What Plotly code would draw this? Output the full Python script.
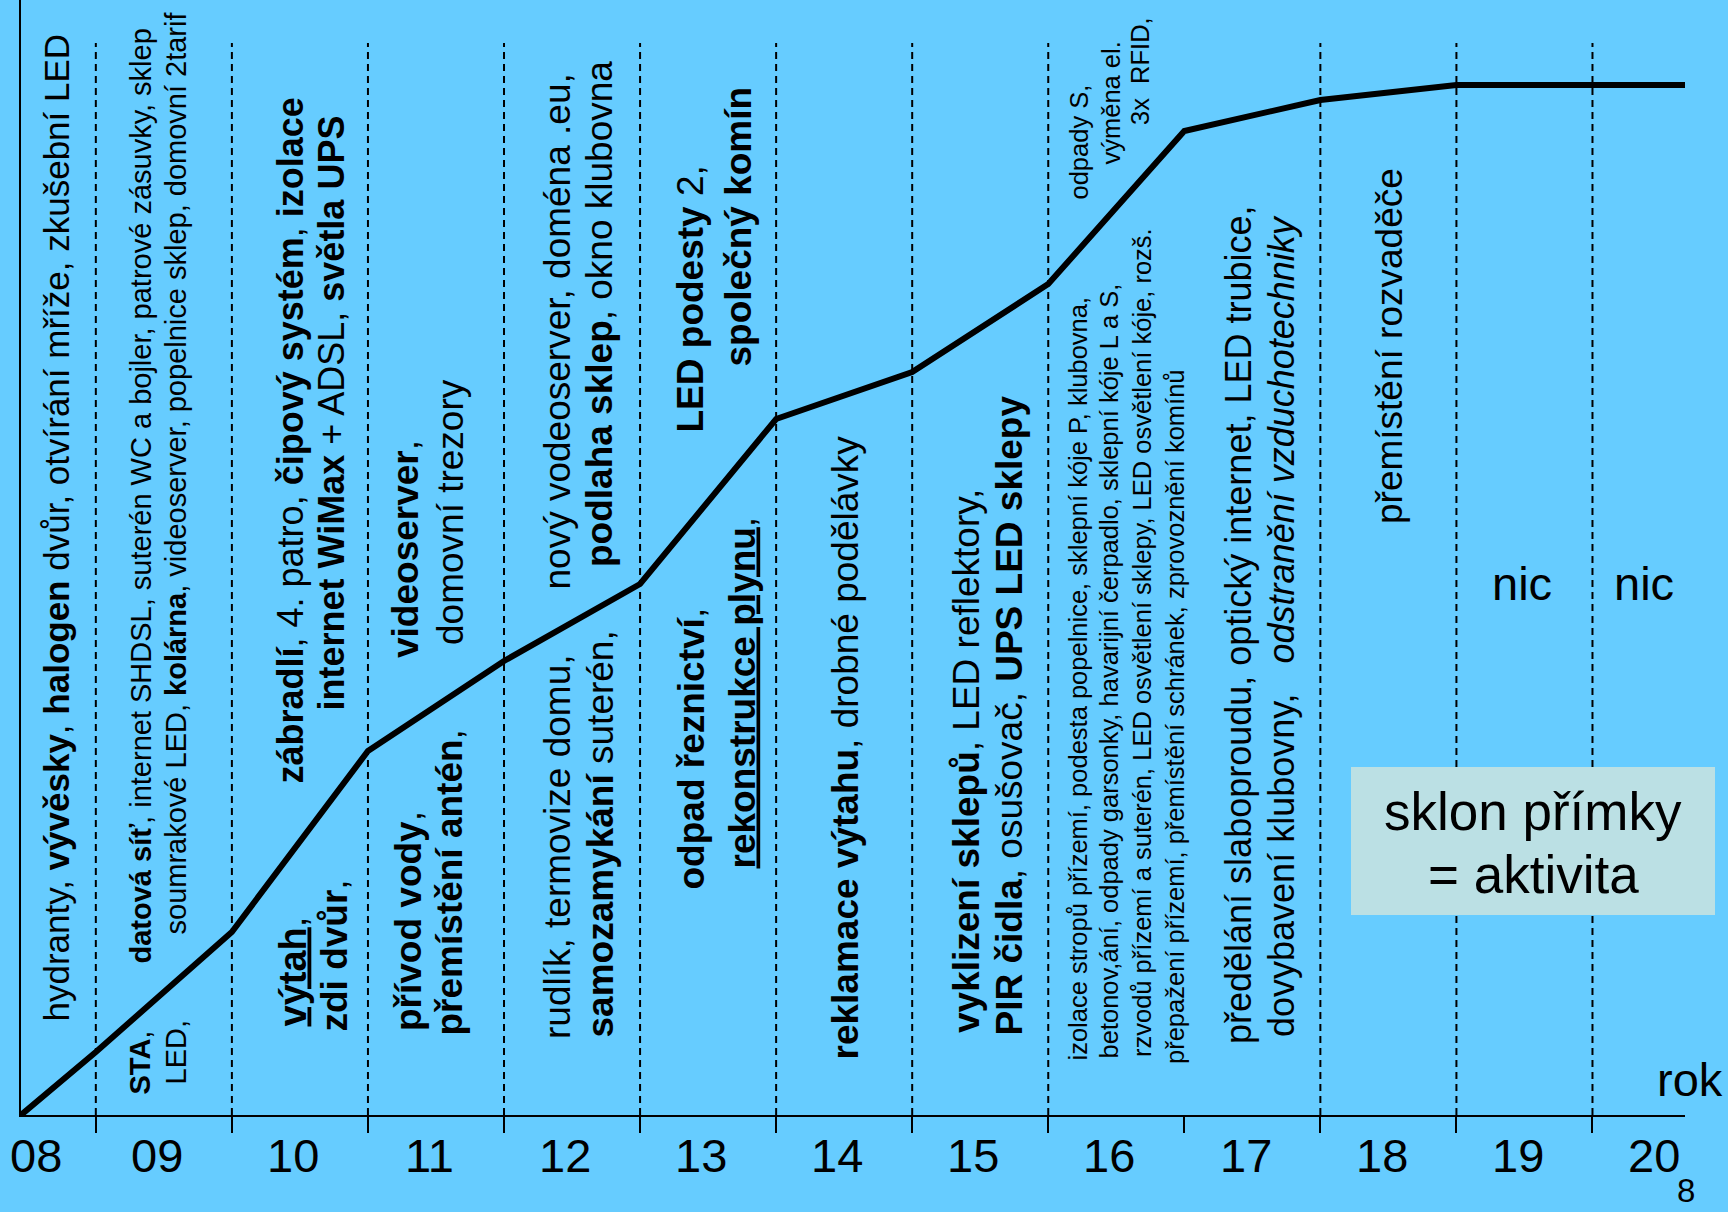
import plotly.graph_objects as go

# ---------------- data ----------------
years = ["08", "09", "10", "11", "12", "13", "14", "15", "16", "17", "18", "19", "20"]
year_pos = [8, 9, 10, 11, 12, 13, 14, 15, 16, 17, 18, 19, 20]
boundaries = [8.55, 9.55, 10.55, 11.55, 12.55, 13.55, 14.55, 15.55, 16.55, 17.55, 18.55, 19.55]
divider_visible = [True, True, True, True, True, True, True, True, False, True, True, True]
line_x = [8.0] + boundaries + [20.23]
activity = [0.0, 6.3, 18.3, 36.4, 45.4, 53.1, 69.6, 74.3, 83.1, 98.4, 101.5, 103.0, 103.0, 103.0]

# ---------------- geometry (pixels of the 1728x1212 page) ----------------
W, H = 1728, 1212
L, R, T, B = 21, 43, 0, 97
PW, PH = W - L - R, H - T - B
BG = "rgb(102,204,255)"
FONT = "Liberation Sans, Arial, Helvetica, sans-serif"


def px(x):
    return (x - L) / PW


def py(y):
    return (H - B - y) / PH


fig = go.Figure()
fig.add_trace(go.Scatter(x=line_x, y=activity, mode="lines",
                         line=dict(color="black", width=6), hoverinfo="skip",
                         showlegend=False))

shapes = []
for b, vis in zip(boundaries, divider_visible):
    if vis:
        shapes.append(dict(type="line", xref="x", yref="paper", x0=b, x1=b, y0=0, y1=py(43),
                           line=dict(color="black", width=2, dash="7px,5px"), layer="below"))
# legend-like box
shapes.append(dict(type="rect", xref="paper", yref="paper", x0=px(1351), x1=px(1715),
                   y0=py(915), y1=py(767), fillcolor="rgb(187,224,228)", line=dict(width=0),
                   layer="above"))

# rotated texts: (html, centre x, bottom y, top y, size)
U = '<span style="text-decoration:underline">{}</span>'
rot_texts = [
    ("hydranty, <b>vývěsky</b>, <b>halogen</b> dvůr, otvírání mříže, zkušební LED", 56, 1020, 35, 35),
    ("<b>STA</b>,", 139, 1093, 1032, 29),
    ("LED,", 175, 1085, 1020, 29),
    ("<b>datová síť</b>, internet SHDSL, suterén WC a bojler, patrové zásuvky, sklep", 140, 970, 23, 29),
    ("soumrakové LED, <b>kolárna</b>, videoserver, popelnice sklep, domovní 2tarif", 175, 939, 8, 29),
    ("<b>" + U.format("výtah") + "</b>,", 292, 1031, 912, 38),
    ("<b>zdi dvůr</b>,", 334, 1031, 880, 37),
    ("<b>zábradlí</b>, 4. patro, <b>čipový systém</b>, <b>izolace</b>", 290, 793, 88, 36),
    ("<b>internet WiMax</b> + ADSL, <b>světla UPS</b>", 331, 722, 105, 36),
    ("<b>přívod vody</b>,", 408, 1035, 807, 37),
    ("<b>přemístění antén</b>,", 449, 1035, 730, 37),
    ("<b>videoserver</b>,", 405, 656, 442, 37),
    ("domovní trezory", 451, 645, 379, 37),
    ("rudlík, termovize domu,", 557, 1038, 656, 37),
    ("<b>samozamykání</b> suterén,", 600, 1038, 631, 37),
    ("nový vodeoserver, doména .eu,", 557, 593, 70, 37),
    ("<b>podlaha sklep</b>, okno klubovna", 600, 568, 60, 37),
    ("<b>odpad řeznictví</b>,", 691, 894, 603, 37),
    ("<b>" + U.format("rekonstrukce plynu") + "</b>,", 742, 894, 491, 37),
    ("<b>LED podesty</b> 2,", 690, 431, 168, 37),
    ("<b>společný komín</b>", 738, 365, 88, 37),
    ("<b>reklamace výtahu</b>, drobné podělávky", 845, 1057, 438, 37),
    ("<b>vyklizení sklepů</b>, LED reflektory,", 966, 1038, 484, 37),
    ("<b>PIR čidla</b>, osušovač, <b>UPS LED sklepy</b>", 1009, 1038, 393, 37),
    ("izolace stropů přízemí, podesta popelnice, sklepní kóje P, klubovna,", 1077, 1076, 281, 25.5),
    ("betonov,ání, odpady garsonky, havarijní čerpadlo, sklepní kóje L a S,", 1108, 1076, 267, 25.5),
    ("rzvodů přízemí a suterén, LED osvětlení sklepy, LED osvětlení kóje, rozš.", 1142, 1076, 210, 25.5),
    ("přepažení přízemí, přemístění schránek, zprovoznění komínů", 1175, 1076, 358, 25.5),
    ("odpady S,", 1078, 200, 85, 25.5),
    ("výměna el.", 1110, 167, 40, 25.5),
    ("3x\u00a0\u00a0RFID,", 1140, 127, 15, 25.5),
    ("předělání slaboproudu, optický internet, LED trubice,", 1238, 1057, 193, 36),
    ("dovybavení klubovny,\u00a0\u00a0\u00a0<i>odstranění vzduchotechniky</i>", 1282, 1057, 195, 36),
    ("přemístění rozvaděče", 1389, 526, 166, 37),
]

annotations = []
for txt, cx, yb, yt, size in rot_texts:
    annotations.append(dict(text=txt, xref="paper", yref="paper", x=px(cx), y=py((yb + yt) / 2),
                            xanchor="center", yanchor="middle", textangle=-90, showarrow=False,
                            font=dict(family=FONT, size=size, color="black")))

# horizontal texts
hor_texts = [
    ("nic", 1522, 583, 47),
    ("nic", 1644, 583, 47),
    ("rok", 1690, 1079, 47),
    ("sklon přímky", 1533, 811, 53),
    ("= aktivita", 1533, 874, 53),
]
for txt, cx, cy, size in hor_texts:
    annotations.append(dict(text=txt, xref="paper", yref="paper", x=px(cx), y=py(cy),
                            xanchor="center", yanchor="middle", showarrow=False,
                            font=dict(family=FONT, size=size, color="black")))
# slide number, anchored by its bottom so it stays inside the page
annotations.append(dict(text="8", xref="paper", yref="paper", x=px(1686), y=py(1210),
                        xanchor="center", yanchor="bottom", showarrow=False, borderpad=0,
                        font=dict(family=FONT, size=33, color="black")))

# year labels on the time axis
for i, (lab, v) in enumerate(zip(years, year_pos)):
    annotations.append(dict(text=lab, xref="x", yref="paper", x=v, y=0, yanchor="middle",
                            xanchor="center", yshift=-40, xshift=15 if i == 0 else 0,
                            showarrow=False, font=dict(family=FONT, size=47, color="black")))

fig.update_layout(
    width=W, height=H, margin=dict(l=L, r=R, t=T, b=B, pad=0),
    paper_bgcolor=BG, plot_bgcolor=BG,
    shapes=shapes, annotations=annotations, showlegend=False,
    xaxis=dict(range=[8, 20.23], showgrid=False, zeroline=False, showline=True,
               linecolor="black", linewidth=2, tickmode="array", tickvals=boundaries,
               ticks="outside", ticklen=16, tickwidth=2, tickcolor="black",
               showticklabels=False, fixedrange=True),
    yaxis=dict(range=[0, 111.5], showgrid=False, zeroline=False, showline=True,
               linecolor="black", linewidth=2, ticks="", showticklabels=False,
               fixedrange=True),
)

fig.write_html("out.html", config={"displayModeBar": False},
               post_script="document.body.style.margin='0';document.body.style.overflow='hidden';"
                           "document.body.style.background='" + BG + "';")
